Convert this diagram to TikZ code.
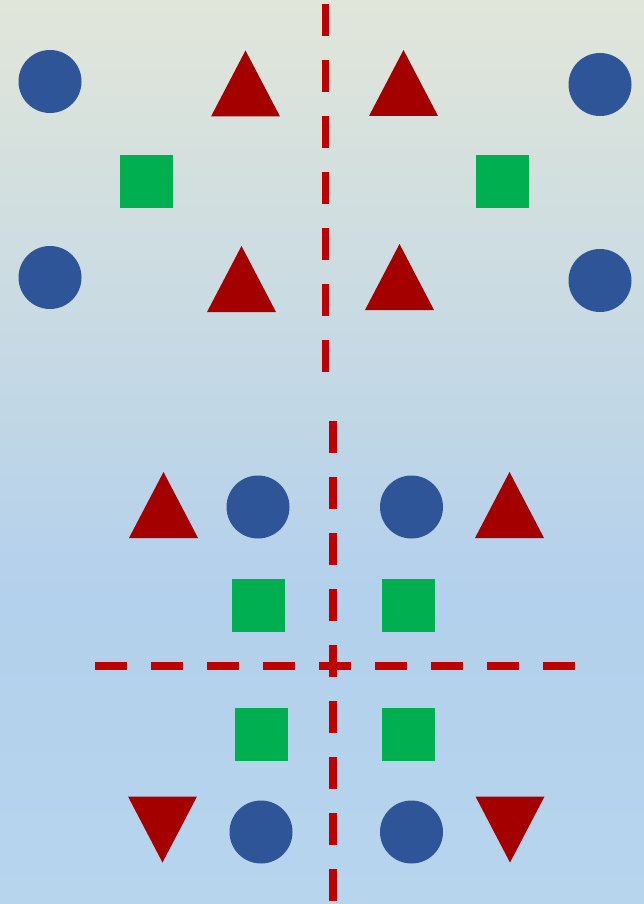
\documentclass[tikz,border=0pt]{standalone}
\usepackage{xcolor}
\usetikzlibrary{positioning}

\definecolor{dotblue}{HTML}{2E5597}
\definecolor{trired}{HTML}{A50000}
\definecolor{boxgreen}{HTML}{00B050}
\definecolor{axisred}{HTML}{C00000}
\definecolor{bgtop}{HTML}{E1E6D9}
\definecolor{bgmid}{HTML}{B3D0EC}
\definecolor{bgbot}{HTML}{B8D5EE}
\pgfdeclareverticalshading{bgshade}{100bp}{%
  color(0bp)=(bgbot); color(25bp)=(bgbot); color(42bp)=(bgmid);
  color(75bp)=(bgtop); color(100bp)=(bgtop)}

\tikzset{
  dot/.style={circle, fill=dotblue, minimum size=63pt, inner sep=0pt},
  sqbox/.style={rectangle, fill=boxgreen, minimum size=53pt, inner sep=0pt},
  axisline/.style={draw=axisred, line width=7.5pt, line cap=butt,
                   dash pattern=on 32pt off 24pt},
  uptri/.pic={\fill[trired] (-34.5,33) -- (0,-33) -- (34.5,33) -- cycle;},
  downtri/.pic={\fill[trired] (-34.5,-33) -- (0,33) -- (34.5,-33) -- cycle;}
}

\begin{document}
\begin{tikzpicture}[x=1pt, y=-1pt]
% background
\useasboundingbox (0,0) rectangle (644,904);
\shade[shading=bgshade] (0,0) rectangle (644,904);
% ---------------- upper pattern (mirror) ----------------
% mirror axis
\coordinate (mtop) at (325.5,4);
\coordinate (mbot) at (325.5,372);
\draw[axisline] (mtop) -- (mbot);
% first row
\node[dot] (c1) at (50,81.5) {};
\pic at (245.5,83.5) {uptri};
\pic at (403.5,83) {uptri};
\node[dot] (c2) at (600,84.5) {};
% squares
\node[sqbox] (s1) at (146.5,181.5) {};
\node[sqbox] (s2) at (502.5,181.5) {};
% second row
\node[dot] (c3) at (50,277.5) {};
\pic at (241.5,279) {uptri};
\pic at (399.5,277) {uptri};
\node[dot] (c4) at (600,280.5) {};
% ---------------- lower pattern (two axes) ----------------
\coordinate (vtop) at (333.3,421);
\coordinate (vbot) at (333.3,901);
\coordinate (hleft) at (95.3,665.7);
\coordinate (hright) at (575.7,665.7);
\draw[axisline, line width=8pt] (vtop) -- (vbot);
\draw[axisline, line width=8pt] (hleft) -- (hright);
% top row
\pic at (163.5,505) {uptri};
\node[dot] (c5) at (258,507) {};
\node[dot] (c6) at (411.5,507) {};
\pic at (509.5,505) {uptri};
% squares
\node[sqbox] (s3) at (258.5,605.5) {};
\node[sqbox] (s4) at (408.5,605.5) {};
\node[sqbox] (s5) at (261.5,734.5) {};
\node[sqbox] (s6) at (408.5,734.5) {};
% bottom row
\pic at (162.5,829.5) {downtri};
\node[dot] (c7) at (261,832) {};
\node[dot] (c8) at (411.5,832) {};
\pic at (510,829.5) {downtri};
\end{tikzpicture}
\end{document}
